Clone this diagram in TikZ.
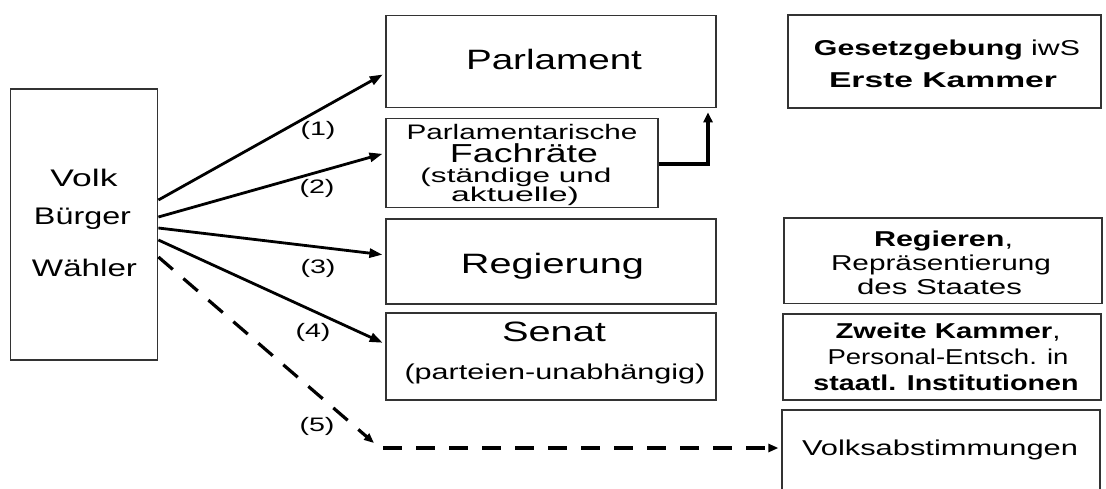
\documentclass[tikz,border=0pt]{standalone}
\usepackage{fontspec}
\usepackage{graphicx}
\setmainfont{Liberation Sans}
\usetikzlibrary{arrows.meta}
\newcommand{\fitw}[2]{\resizebox{#1}{\height}{#2}}
\newcommand{\fsz}[1]{\fontsize{#1}{#1}\selectfont}
\tikzset{
  box/.style={draw=black!80, line width=1.2pt, rectangle, inner sep=0pt},
  txt/.style={inner sep=0pt, anchor=base},
  arr/.style={line width=2.8pt, -{Triangle[length=13pt,width=9pt]}, shorten >=3pt},
  darr/.style={line width=3.2pt, dash pattern=on 19pt off 14pt, -{Triangle[length=10pt,width=8pt]}},
  uparr/.style={line width=3.5pt, -{Triangle[length=10pt,width=9pt]}, shorten >=4pt}
}
\begin{document}
\begin{tikzpicture}[x=1pt,y=-1pt]
\useasboundingbox (0,0) rectangle (1106,488);
\clip (0,0) rectangle (1106,488);
\fill[white] (0,0) rectangle (1106,488);

% boxes
\node[box, minimum width=147pt, minimum height=271pt] (volk) at (84.3,224.5) {};
\node[box, minimum width=330pt, minimum height=92pt] (parl) at (551,61.7) {};
\node[box, minimum width=272pt, minimum height=89pt] (fach) at (522,163.3) {};
\node[box, minimum width=330pt, minimum height=85pt] (regg) at (551,261.5) {};
\node[box, minimum width=330pt, minimum height=87pt] (senat) at (551,356.5) {};
\node[box, minimum width=313pt, minimum height=93pt] (gesetz) at (944.5,61.5) {};
\node[box, minimum width=318pt, minimum height=85.5pt] (regieren) at (943,260.7) {};
\node[box, minimum width=318pt, minimum height=86pt] (zweite) at (942,357) {};
\node[box, minimum width=318pt, minimum height=100pt] (volkab) at (941,460) {};

% texts
\node[txt] (tvolk) at (84,186) {\fsz{24}\fitw{67pt}{Volk}};
\node[txt] (tbuerger) at (82.5,224) {\fsz{24}\fitw{97pt}{Bürger}};
\node[txt] (twaehler) at (84.5,276) {\fsz{24}\fitw{105pt}{Wähler}};

\node[txt] (tparl) at (554,69) {\fsz{28}\fitw{176pt}{Parlament}};

\node[txt] (tfach1) at (522,139) {\fsz{21}\fitw{231pt}{Parlamentarische}};
\node[txt] (tfach2) at (524,162) {\fsz{26}\fitw{148pt}{Fachräte}};
\node[txt] (tfach3) at (516,182) {\fsz{20}\fitw{191pt}{(ständige und}};
\node[txt] (tfach4) at (515,201) {\fsz{20}\fitw{128pt}{aktuelle)}};

\node[txt] (tregg) at (552.5,273) {\fsz{28}\fitw{183pt}{Regierung}};
\node[txt] (tsenat) at (554,341) {\fsz{28}\fitw{104pt}{Senat}};
\node[txt] (tsenat2) at (555,379) {\fsz{21.5}\fitw{301pt}{(parteien-unabhängig)}};

\node[txt] (l1) at (318,135) {\fsz{19.5}\fitw{35pt}{(1)}};
\node[txt] (l2) at (317,193) {\fsz{19.5}\fitw{35pt}{(2)}};
\node[txt] (l3) at (318,273) {\fsz{19.5}\fitw{35pt}{(3)}};
\node[txt] (l4) at (313,337) {\fsz{19.5}\fitw{35pt}{(4)}};
\node[txt] (l5) at (317,431) {\fsz{19.5}\fitw{35pt}{(5)}};

\node[txt] (tges1) at (947,55) {\fsz{21.5}\fitw{266pt}{\textbf{Gesetzgebung} iwS}};
\node[txt] (tges2) at (943,87) {\fsz{21.5}\fitw{228pt}{\textbf{Erste Kammer}}};

\node[txt] (treg1) at (943.5,246) {\fsz{21.5}\fitw{139pt}{\textbf{Regieren},}};
\node[txt] (treg2) at (941,270) {\fsz{21.5}\fitw{220pt}{Repräsentierung}};
\node[txt] (treg3) at (939.5,294) {\fsz{21.5}\fitw{165pt}{des Staates}};

\node[txt] (tzw1) at (948,338) {\fsz{21.5}\fitw{225pt}{\textbf{Zweite Kammer},}};
\node[txt] (tzw2) at (948,364) {\fsz{21.5}\fitw{241pt}{Personal-Entsch. in}};
\node[txt] (tzw3) at (946,390) {\fsz{21.5}\fitw{265pt}{\textbf{staatl. Institutionen}}};

\node[txt] (tvab) at (940,455) {\fsz{21.5}\fitw{276pt}{Volksabstimmungen}};

% connectors
\draw[arr] (volk.east |- 0,200) -- (parl.west |- 0,73);
\draw[arr] (volk.east |- 0,217) -- (fach.west |- 0,153);
\draw[arr] (volk.east |- 0,228) -- (regg.west |- 0,255);
\draw[arr] (volk.east |- 0,240) -- (senat.west |- 0,344);
\coordinate (d5) at (374,443);
\coordinate (h5) at (383,448);
\draw[darr] (volk.east |- 0,257) -- (d5);
\draw[darr, shorten >=3pt] (h5) -- (volkab.west |- h5);
\draw[uparr] (fach.east |- 0,164) -| (parl.south -| 708,0);
\end{tikzpicture}
\end{document}
